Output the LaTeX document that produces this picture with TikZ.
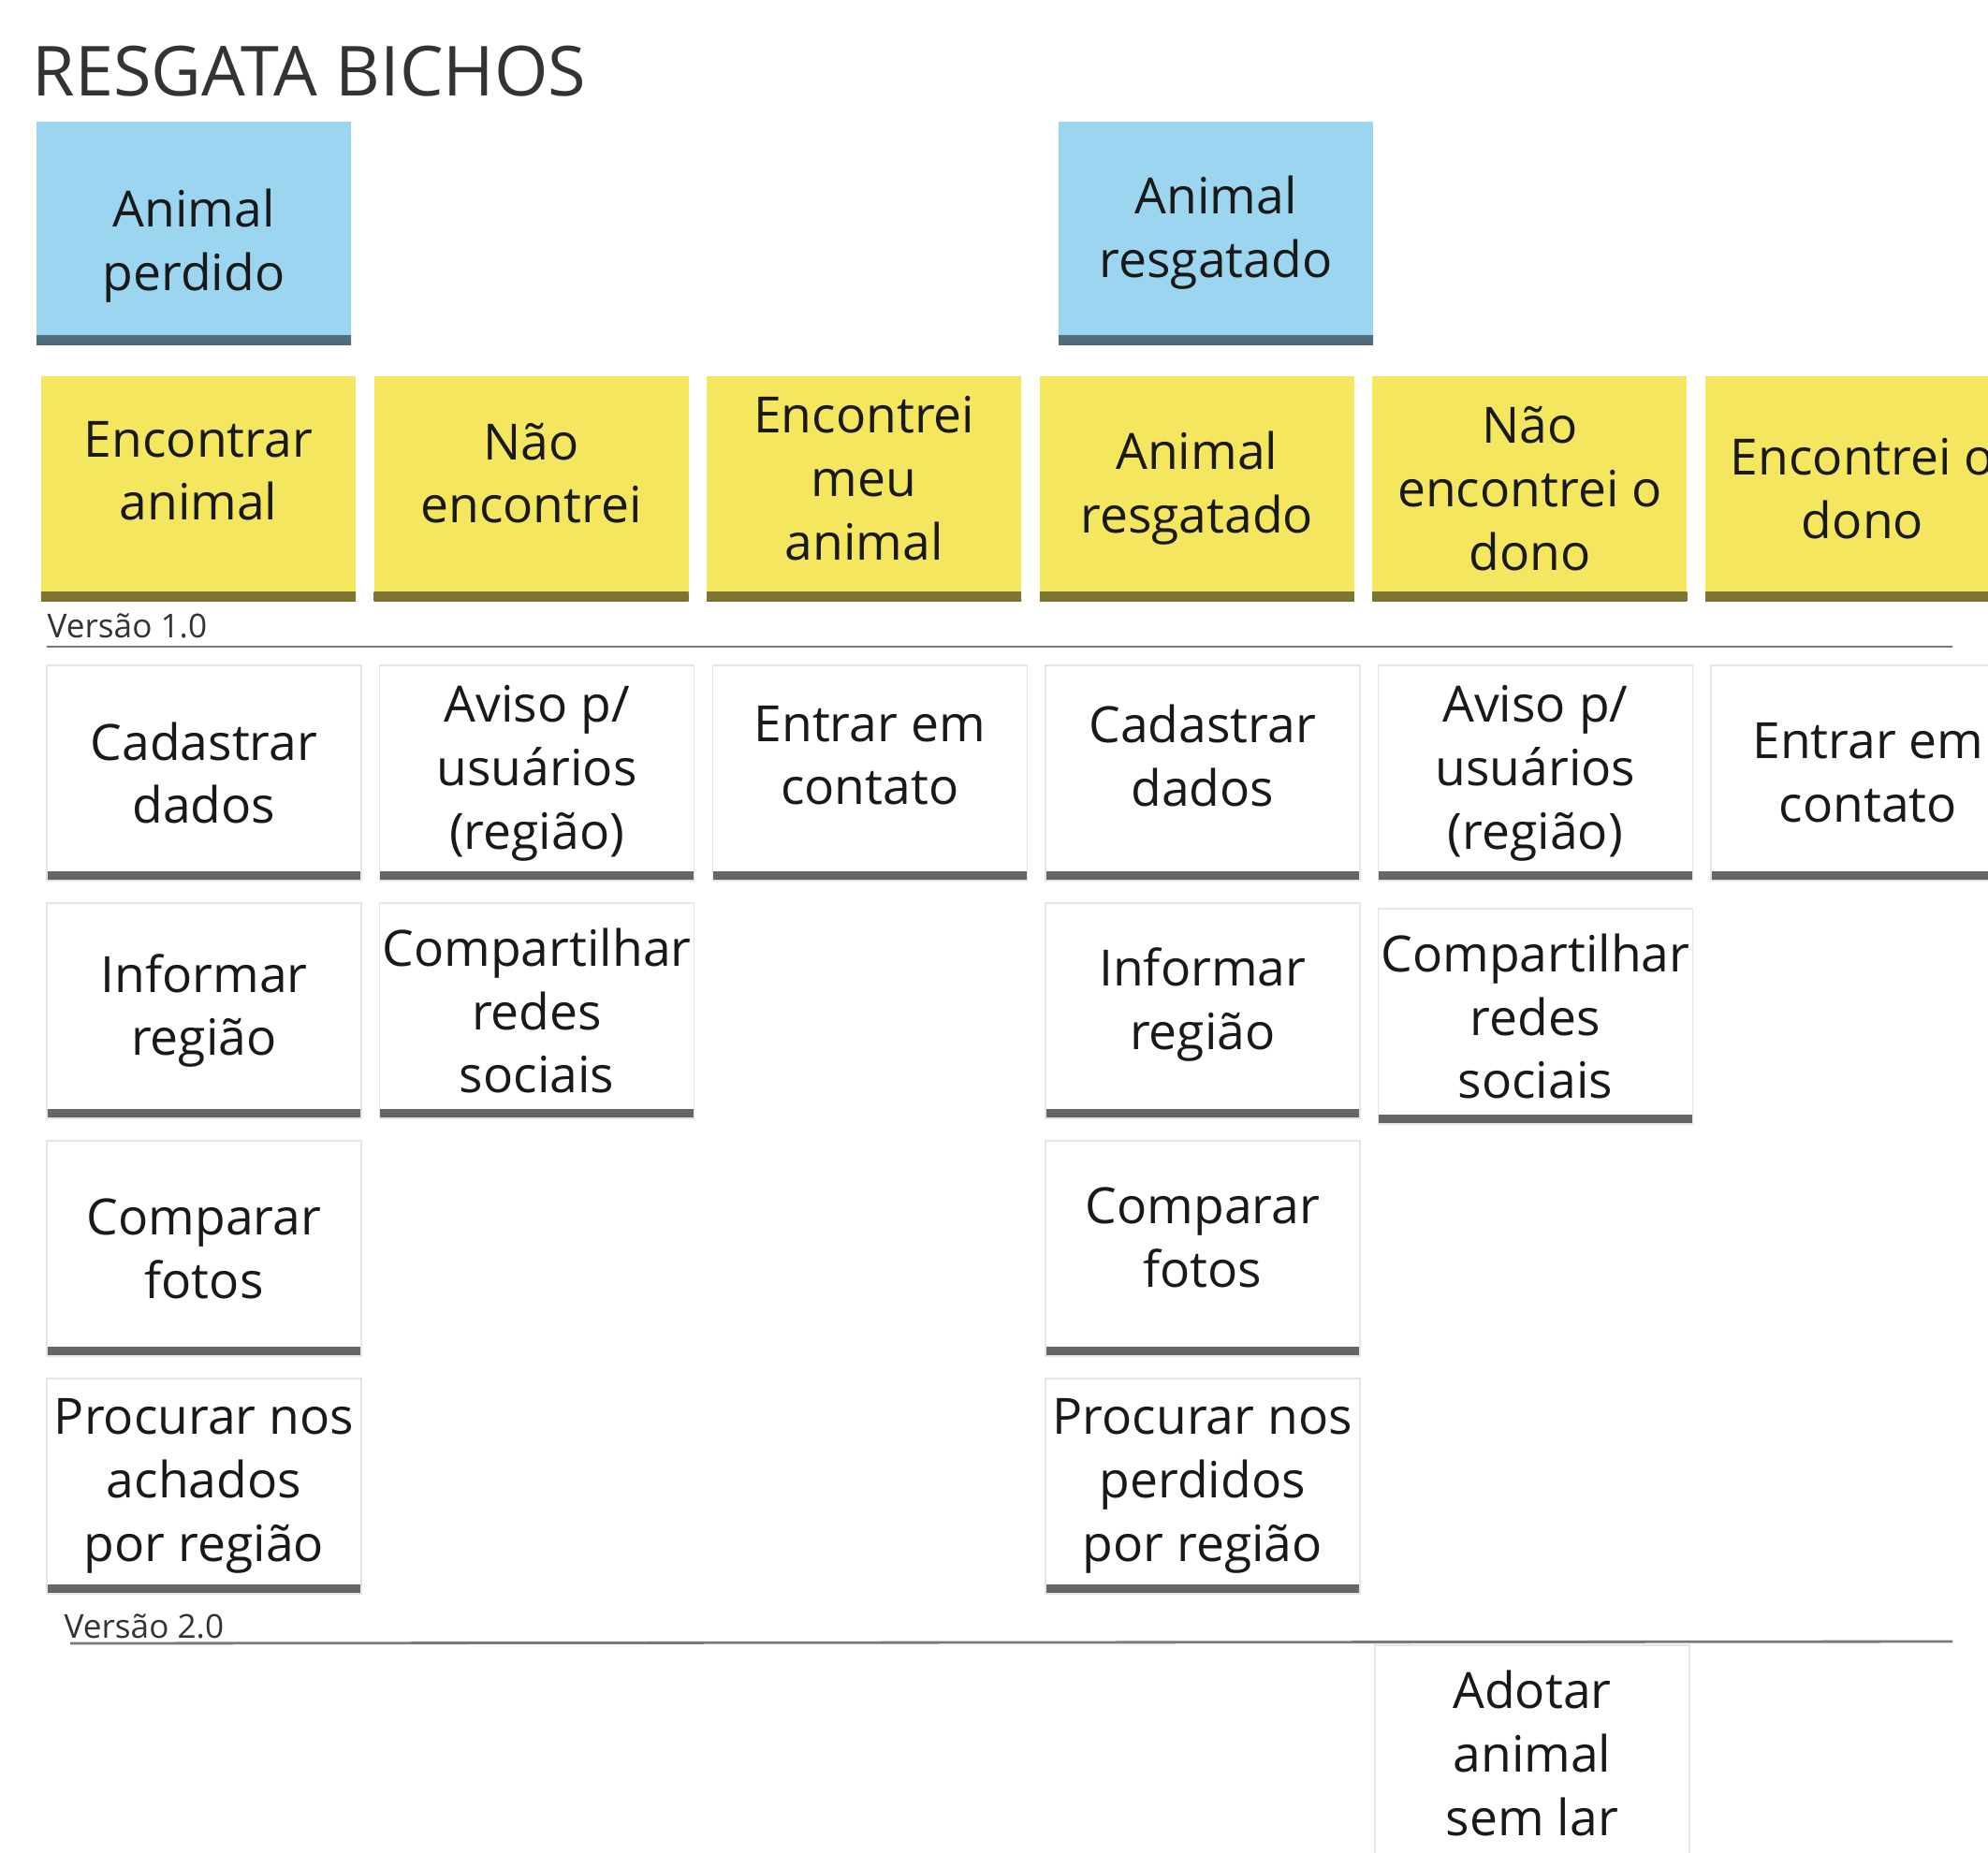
\documentclass[tikz,border=0pt]{standalone}
\usepackage{fontspec}
\setmainfont{Open Sans}
\usepackage{tikz}
\definecolor{postit}{HTML}{F5E65F}
\definecolor{sky}{HTML}{9BD5F0}
\definecolor{rulegray}{HTML}{7A7A7A}
\definecolor{ink}{HTML}{333333}
\colorlet{storyshade}{black!22}
\newcommand\liftup[1]{\rule[-#1]{0pt}{#1}}
\newcommand\pushdown[1]{\rule{0pt}{#1}}

\tikzset{
  card/.style={rectangle, minimum width=3.36cm, minimum height=2.30cm, inner sep=0pt, align=center,
    font=\fontsize{15.2}{19.3}\selectfont, text=black!90,
    path picture={\shade[top color=#1, bottom color=black!50!#1]
      (path picture bounding box.south west) rectangle ([yshift=0.10cm]path picture bounding box.south east);}},
  goal/.style={card=sky, fill=sky, minimum height=2.38cm},
  task/.style={card=postit, fill=postit, minimum height=2.40cm},
  story/.style={card=storyshade, fill=white, draw=black!10, line width=0.4pt},
  release/.style={font=\fontsize{10}{12}\selectfont, text=ink, inner sep=0pt, anchor=base west},
  releaseline/.style={draw=rulegray, line width=0.8pt}
}

\begin{document}
\begin{tikzpicture}[node distance=3.556cm]
  \useasboundingbox (0,0) rectangle (21.24,-19.80);
  \clip (0,0) rectangle (21.24,-19.80);

  \node[anchor=base west, inner sep=0pt, text=ink, font=\fontsize{21}{25}\selectfont] (title) at (0.34,-1.02) {RESGATA BICHOS};

  \node[goal]	(lost)    at (2.07,-2.49)  {\pushdown{0.67cm}Animal\\perdido};
  \node[goal]	(rescued) at (12.99,-2.49) {Animal\\resgatado};

  \node[task]	(find)     at (2.12,-5.22)   {Encontrar\\animal\liftup{0.38cm}};
  \node[task]	(notfound) [right of=find]     {Não\\encontrei\liftup{0.33cm}};
  \node[task]	(found)    [right of=notfound] {Encontrei\\meu\\animal\liftup{0.22cm}};
  \node[task]	(saved)    [right of=found]    {Animal\\resgatado};
  \node[task]	(noowner)  [right of=saved]    {Não\\encontrei o\\dono};
  \node[task]	(owner)    [right of=noowner]  {Encontrei o\\dono};

  \node[release] (v1) at (0.50,-6.81) {Versão 1.0};
  \coordinate (v1start) at (0.50,-6.91);
  \coordinate (v1end)   at (20.86,-6.91);
  \draw[releaseline] (v1start) -- (v1end);

  \node[story]	(signup1)  at (2.18,-8.26)    {Cadastrar\\dados};
  \node[story]	(alert1)   [right of=signup1]  {Aviso p/\\usuários\\(região)};
  \node[story]	(contact1) [right of=alert1]   {Entrar em\\contato\liftup{0.38cm}};
  \node[story]	(signup2)  [right of=contact1] {Cadastrar\\dados\liftup{0.38cm}};
  \node[story]	(alert2)   [right of=signup2]  {Aviso p/\\usuários\\(região)};
  \node[story]	(contact2) [right of=alert2]   {Entrar em\\contato};

  \begin{scope}[node distance=2.54cm]
    \node[story]	(area1)   [below of=signup1] {Informar\\região};
    \node[story]	(share1)  [below of=alert1]  {Compartilhar\\redes\\sociais};
    \node[story]	(photo1)  [below of=area1]   {Comparar\\fotos};
    \node[story]	(search1) [below of=photo1]  {Procurar nos\\achados\\por região};
    \node[story]	(area2)   [below of=signup2] {Informar\\região\liftup{0.26cm}};
    \node[story]	(share2)  [below of=alert2, yshift=-0.06cm] {Compartilhar\\redes\\sociais};
    \node[story]	(photo2)  [below of=area2]   {Comparar\\fotos\liftup{0.24cm}};
    \node[story]	(search2) [below of=photo2]  {Procurar nos\\perdidos\\por região};
  \end{scope}

  \node[release] (v2) at (0.68,-17.50) {Versão 2.0};
  \coordinate (v2start) at (0.75,-17.56);
  \coordinate (v2end)   at (20.86,-17.54);
  \draw[releaseline] (v2start) -- (v2end);

  \node[story, minimum height=2.50cm]	(adopt) at (16.37,-18.83) {Adotar\\animal\\sem lar\liftup{0.20cm}};
\end{tikzpicture}
\end{document}
